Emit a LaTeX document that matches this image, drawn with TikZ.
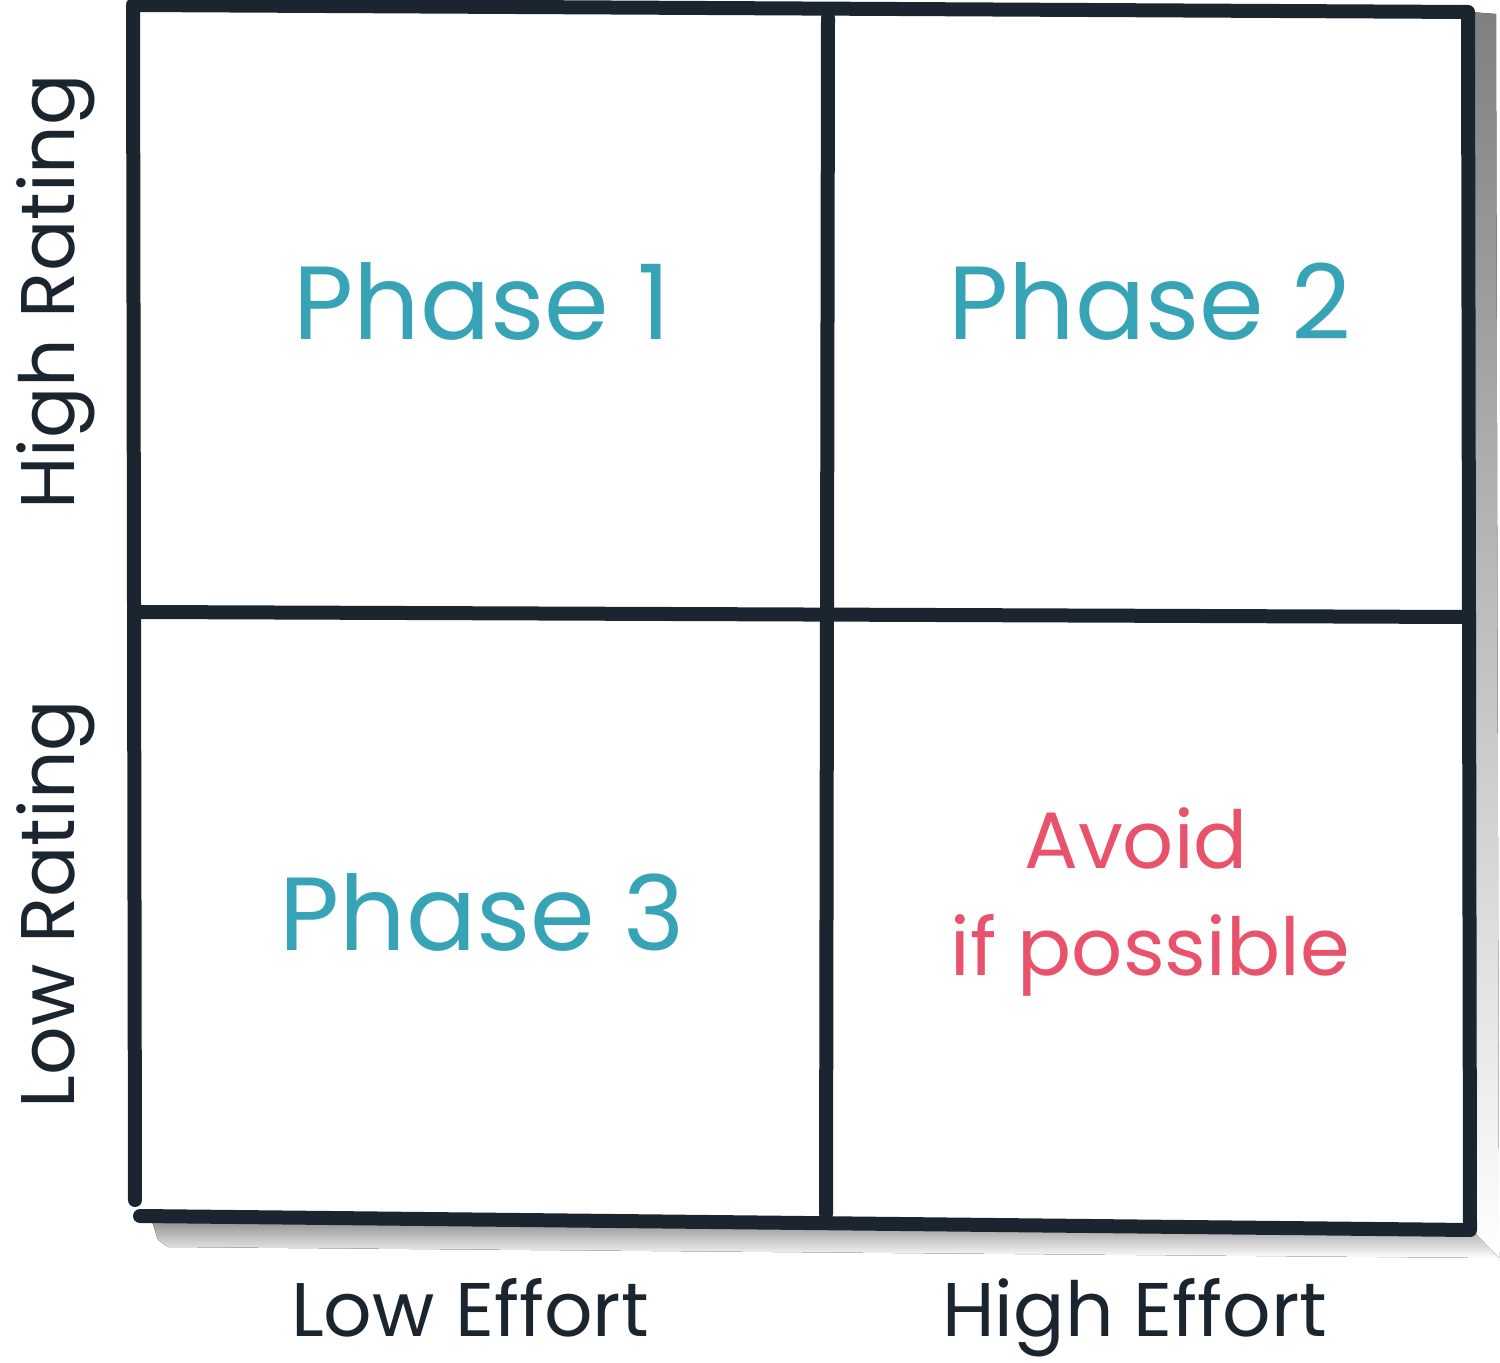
\documentclass[tikz,border=0pt]{standalone}
\usepackage{fontspec}
\setmainfont{Poppins}
\definecolor{ink}{HTML}{1B2530}
\definecolor{teal}{HTML}{36A3B6}
\definecolor{redt}{HTML}{E8526A}
\definecolor{shade}{HTML}{DEDEDE}
\begin{document}
\begin{tikzpicture}[x=0.5pt,y=-0.5pt,
  frame/.style={draw=ink,line width=7pt,line cap=round,line join=round},
  phase/.style={text=teal,font=\fontsize{52}{60}\selectfont,inner sep=0pt,anchor=base},
  avoid/.style={text=redt,font=\fontsize{40}{46}\selectfont,inner sep=0pt,anchor=base},
  axis/.style={text=ink,font=\fontsize{38}{44}\selectfont,inner sep=0pt,anchor=base}]
\fill[white] (0,0) rectangle (1500,1363);
\useasboundingbox (0,0) rectangle (1500,1363);
% shadow
\fill[shade] (1470,12) -- (1496,14) -- (1499,1258) -- (1470,1250) -- cycle;
\fill[shade] (150,1215) -- (1470,1228) -- (1499,1258) -- (168,1247) -- (158,1240) -- cycle;
% corners
\coordinate (tl) at (133,5);
\coordinate (tr) at (1468,12);
\coordinate (br) at (1470,1230);
\coordinate (bl0) at (135,1200);
\coordinate (bl1) at (140,1216);
\coordinate (mt) at (828,18);
\coordinate (mb) at (826,1214);
\coordinate (ml) at (141,612);
\coordinate (mr) at (1465,617);
\draw[frame] (bl0) -- (tl) -- (tr) -- (br) -- (bl1);
\draw[frame] (mt) -- (mb);
\draw[frame] (ml) -- (mr);
% texts
\node[phase] (p1) at (482,340) {Phase 1};
\node[phase] (p2) at (1150,340) {Phase 2};
\node[phase] (p3) at (482,950) {Phase 3};
\node[avoid] (av1) at (1136,868) {Avoid};
\node[avoid] (av2) at (1150,975) {if possible};
\node[axis] (le) at (470,1336) {Low Effort};
\node[axis] (he) at (1135,1336) {High Effort};
\node[axis,rotate=90] (hr) at (75,292) {High Rating};
\node[axis,rotate=90] (lr) at (75,904) {Low Rating};
\end{tikzpicture}
\end{document}
